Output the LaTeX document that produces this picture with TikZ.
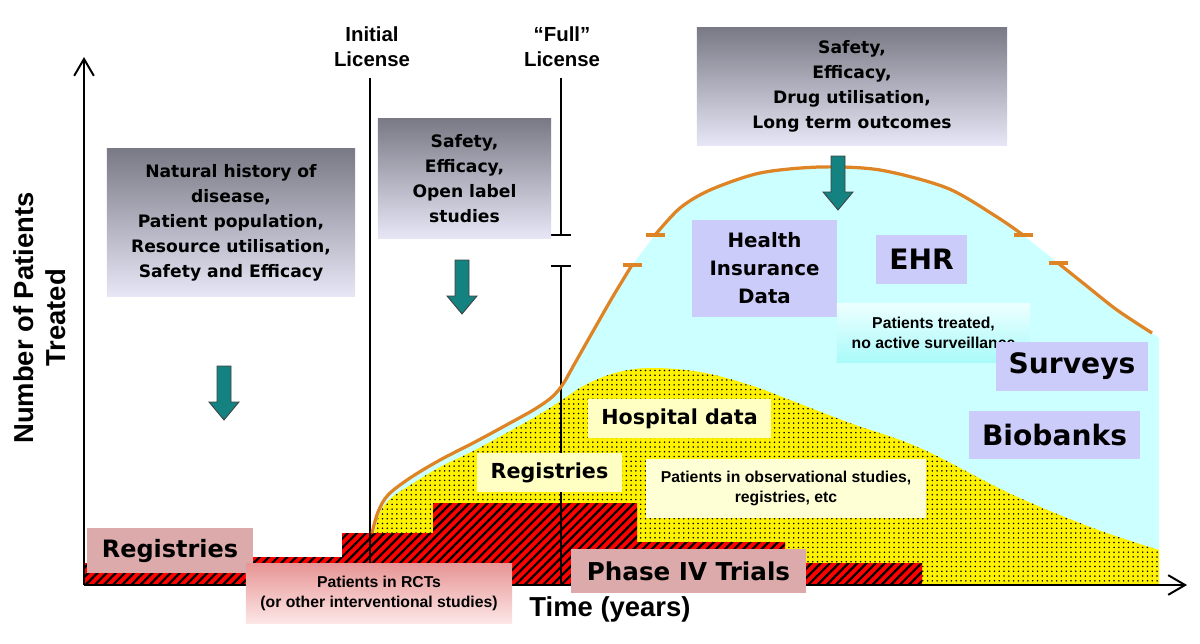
\documentclass[tikz,border=0pt]{standalone}
\usepackage{fontspec}
\setmainfont{DejaVu Sans}
\newfontfamily\arialfont{Liberation Sans}
\usepackage{tikz}
\usetikzlibrary{arrows.meta, patterns.meta}

\definecolor{boxtop}{RGB}{122,122,134}
\definecolor{boxbot}{RGB}{230,230,246}
\definecolor{skyfill}{RGB}{204,255,255}
\definecolor{lavfill}{RGB}{204,204,250}
\definecolor{ylwfill}{RGB}{255,255,196}
\definecolor{ylwlight}{RGB}{255,255,214}
\definecolor{pinkfill}{RGB}{220,170,170}
\definecolor{rcttop}{RGB}{232,150,150}
\definecolor{rctbot}{RGB}{252,230,230}
\definecolor{survtop}{RGB}{236,255,255}
\definecolor{survbot}{RGB}{170,250,250}
\definecolor{curveorange}{RGB}{222,132,36}
\definecolor{tealfill}{RGB}{20,130,128}

\begin{document}
\begin{tikzpicture}[x=0.025cm, y=-0.025cm,
  greybox/.style={top color=boxtop, bottom color=boxbot, align=center, inner sep=0pt,
                  font=\fontsize{12.2}{17.8}\selectfont\bfseries},
  lavbox/.style={fill=lavfill, align=center, inner sep=0pt},
  ylwbox/.style={fill=ylwfill, align=center, inner sep=0pt},
  pinkbox/.style={fill=pinkfill, align=center, inner sep=0pt},
  bigtxt/.style={font=\fontsize{20}{24}\selectfont\bfseries},
  midtxt/.style={font=\fontsize{14.7}{19.9}\selectfont\bfseries},
  smalltxt/.style={font=\arialfont\bfseries\fontsize{11.2}{14.2}\selectfont, align=center},
  lbltxt/.style={font=\arialfont\bfseries\fontsize{14.5}{17.8}\selectfont, align=center},
  axistxt/.style={font=\arialfont\bfseries\fontsize{19.5}{22.7}\selectfont, align=center},
  licline/.style={line width=1.5pt},
  curve/.style={draw=curveorange, line width=2.3pt},
  axis/.style={line width=1.4pt, -{Straight Barb[length=12pt, width=14pt]}},
  tealarr/.style={fill=tealfill, draw=black!75, line width=0.6pt}
]
\useasboundingbox (0,0) rectangle (1200,643);

% patients treated (area under the orange curve)
\fill[skyfill]
  plot[smooth, tension=0.55] coordinates {(372,533) (378,512) (388,495) (410,478) (440,460)
    (475,442) (510,423) (535,409) (552,397) (563,384) (575,363) (592,333) (612,298) (632,265)}
  -- plot[smooth] coordinates {(655,235) (680,208) (710,190) (760,173) (820,167) (880,170)
    (947,188) (997,217) (1023,235)}
  -- plot[smooth] coordinates {(1058,263) (1083,283) (1117,310) (1152,333)}
  -- (1159,338) -- (1159,585) -- (372,585) -- cycle;

% observational studies
\fill[yellow, postaction={pattern={Dots[distance=3.4pt, radius=0.62pt]}}]
  (372,585) -- plot[smooth, tension=0.6] coordinates {(373,540) (379,515) (390,499) (412,484)
    (440,467) (475,450) (510,431) (540,414) (562,400) (585,385) (615,373) (650,368) (700,372)
    (750,385) (790,400) (850,423) (920,448) (1011,494) (1093,528) (1159,550)}
  -- (1159,585) -- cycle;

% interventional studies
\fill[red, postaction={pattern={Lines[angle=45, distance=4.6pt, line width=1.6pt]}}]
  (84,585) -- (84,563) -- (253,563) -- (253,557) -- (342,557) -- (342,533) -- (433,533)
  -- (433,503) -- (637,503) -- (637,542) -- (785,542) -- (785,563) -- (922,563)
  -- (922,585) -- cycle;

% axes
\coordinate (origin) at (84,585);
\coordinate (ytip) at (84,57);
\coordinate (xtip) at (1187,585);
\draw[axis] (origin) -- (ytip);
\draw[axis] (origin) -- (xtip);

% licences
\node[lbltxt] (initlbl) at (372,47) {Initial\\License};
\node[lbltxt] (fulllbl) at (562,47) {“Full”\\License};
\coordinate (initTop) at (370,78);
\coordinate (initBot) at (370,585);
\coordinate (fullTop) at (561,78);
\coordinate (fullGapA) at (561,236);
\coordinate (fullGapB) at (561,265);
\coordinate (fullBot) at (561,585);
\draw[licline] (initTop) -- (initBot);
\draw[licline, -{Bar[width=14pt]}] (fullTop) -- (fullGapA);
\draw[licline, {Bar[width=14pt]}-] (fullGapB) -- (fullBot);

% orange curve
\draw[curve] plot[smooth, tension=0.55] coordinates {(372,533) (378,512) (388,495) (410,478)
  (440,460) (475,442) (510,423) (535,409) (552,397) (563,384) (575,363) (592,333) (612,298) (632,265)};
\draw[curve] plot[smooth] coordinates {(655,235) (680,208) (710,190) (760,173) (820,167)
  (880,170) (947,188) (997,217) (1023,235)};
\draw[curve] plot[smooth] coordinates {(1058,263) (1083,283) (1117,310) (1152,333)};
\foreach \bx/\by in {632/265, 655/235, 1023/235, 1058/263}
  \draw[curve] (\bx-9.5,\by) -- (\bx+9.5,\by);

% question boxes
\node[greybox, minimum width=6.2cm, minimum height=3.675cm] (history) at (231,222.5)
  {Natural history of\\disease,\\Patient population,\\Resource utilisation,\\Safety and Efficacy};
\node[greybox, minimum width=4.325cm, minimum height=2.975cm] (openlabel) at (464.5,178.5)
  {Safety,\\Efficacy,\\Open label\\studies};
\node[greybox, minimum width=7.75cm, minimum height=2.925cm] (longterm) at (852,86.5)
  {Safety,\\Efficacy,\\Drug utilisation,\\Long term outcomes};

\foreach \ax/\ay in {224/366, 462/260, 838/156}
  \draw[tealarr] (\ax-7,\ay) -- (\ax+7,\ay) -- (\ax+7,\ay+36) -- (\ax+15,\ay+36)
    -- (\ax,\ay+54) -- (\ax-15,\ay+36) -- (\ax-7,\ay+36) -- cycle;

% data sources
\node[lavbox, minimum width=3.625cm, minimum height=2.425cm,
      font=\fontsize{14.1}{19.9}\selectfont\bfseries] (insurance) at (764.5,268.5)
  {Health\\Insurance\\Data};
\node[lavbox, bigtxt, minimum width=2.275cm, minimum height=1.225cm] (ehr) at (921.5,259.5) {EHR};
\node[top color=survtop, bottom color=survbot, inner sep=0pt, smalltxt,
      minimum width=4.825cm, minimum height=1.45cm] (nosurv) at (933.5,333)
  {Patients treated,\\no active surveillance};
\node[lavbox, bigtxt, minimum width=3.8cm, minimum height=1.225cm] (surveys) at (1072,366.5) {Surveys};
\node[lavbox, bigtxt, minimum width=4.275cm, minimum height=1.2cm] (biobanks) at (1054.5,435) {Biobanks};

\node[ylwbox, midtxt, minimum width=4.575cm, minimum height=0.975cm] (hospital) at (679.5,418.5) {Hospital data};
\node[ylwbox, midtxt, minimum width=3.625cm, minimum height=0.975cm] (regmid) at (549.5,472.5) {Registries};
\node[ylwbox, fill=ylwlight, smalltxt, minimum width=7cm, minimum height=1.475cm] (observ) at (786,488.5)
  {Patients in observational studies,\\registries, etc};

\node[pinkbox, font=\fontsize{17}{20}\selectfont\bfseries, minimum width=4.15cm,
      minimum height=1.125cm] (regearly) at (170,550.5) {Registries};
\node[top color=rcttop, bottom color=rctbot, inner sep=0pt, smalltxt,
      minimum width=6.65cm, minimum height=1.475cm] (rct) at (379,593.5)
  {Patients in RCTs\\(or other interventional studies)};
\node[pinkbox, font=\fontsize{17.5}{20}\selectfont\bfseries, minimum width=5.875cm,
      minimum height=1.1cm] (phase4) at (688.5,571) {Phase IV Trials};

% axis labels
\node[axistxt] (xlbl) at (610,609) {Time (years)};
\node[axistxt, rotate=90] (ylbl) at (40,318) {Number of Patients\\Treated};
\end{tikzpicture}
\end{document}
